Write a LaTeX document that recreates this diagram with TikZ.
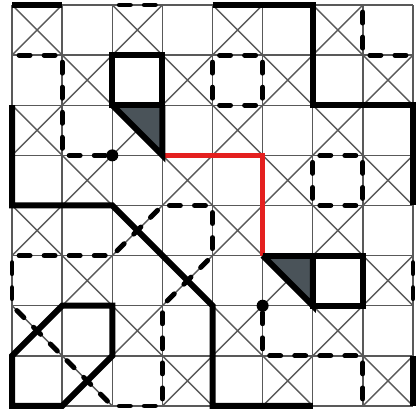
\documentclass[tikz,border=0pt]{standalone}
\usepackage{tikz}
\definecolor{slate}{HTML}{4A5359}
\definecolor{pathred}{HTML}{E4201F}

\begin{document}
\begin{tikzpicture}[x=1cm, y=1cm,
    gridline/.style={line width=0.8pt, black!65},
    wall/.style={line width=3.4pt, black},
    dashline/.style={line width=2.8pt, black, line cap=round,
      dash pattern=on 0.22cm off 0.28cm, dash phase=0.36cm},
    dashdiag/.style={line width=2.8pt, black, line cap=round,
      dash pattern=on 0.2cm off 0.2714cm, dash phase=0.3357cm}]
  \useasboundingbox (-0.24,-0.16) rectangle (8.08,8.10);
  % grid
  \draw[gridline] (0,0) grid (8,8);
  \foreach \col in {0,...,7}
    \foreach \row in {0,...,7} {
      \ifodd\numexpr\col+\row\relax
        \draw[gridline] (\col,\row) -- ++(1,1) (\col+1,\row) -- ++(-1,1);
      \fi
    }
  % shaded corners
  \fill[slate] (2,6) -- (3,6) -- (3,5) -- cycle;
  \fill[slate] (5,3) -- (6,3) -- (6,2) -- cycle;
  % red path
  \draw[line width=2.8pt, pathred] (3,5) -- (5,5) -- (5,3);
  % solid walls
  \draw[wall] (0,8) -- (1,8);
  \draw[wall] (4,8) -- (6,8) -- (6,6) -- (8,6) -- (8,4);
  \draw[wall] (2,7) rectangle (3,6);
  \draw[wall] (2,6) -- (3,5) -- (3,6);
  \draw[wall] (6,3) rectangle (7,2);
  \draw[wall] (5,3) -- (6,2) -- (6,3);
  \draw[wall] (5,3) -- (6,3);
  \draw[wall] (0,6) -- (0,4) -- (2,4) -- (4,2) -- (4,0) -- (6,0);
  \draw[wall] (8,1) -- (8,0);
  \draw[wall] (1,2) -- (2,2) -- (2,1) -- (1,0) -- (0,0) -- (0,1) -- cycle;
  % dashed walls
  \draw[dashline] (2,8) -- (3,8);
  \draw[dashline] (0,7) -- (1,7) -- (1,5) -- (2,5);
  \draw[dashline] (4,7) rectangle (5,6);
  \draw[dashline] (7,8) -- (7,7) -- (8,7);
  \draw[dashline] (6,5) rectangle (7,4);
  \draw[dashline] (8,3) -- (8,2);
  \draw[dashline] (5,2) -- (5,1) -- (7,1) -- (7,0);
  % dashed loop, bottom left
  \draw[dashline] (0,2) -- (0,3) -- (2,3);
  \draw[dashline] (3,4) -- (4,4) -- (4,3);
  \draw[dashline] (3,2) -- (3,0) -- (2,0);
  \draw[dashdiag] (2,0) -- (0,2);
  \draw[dashdiag] (2,3) -- (3,4);
  \draw[dashdiag] (4,3) -- (3,2);
  % dots
  \fill (2,5) circle (0.12);
  \fill (5,2) circle (0.12);
\end{tikzpicture}
\end{document}
